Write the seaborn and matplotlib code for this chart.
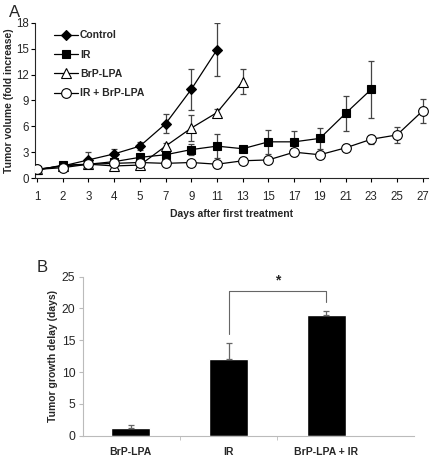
import matplotlib
matplotlib.use("Agg")
import matplotlib.pyplot as plt
import numpy as np
import pandas as pd
import seaborn as sns

# Panel A data: tumor volume (fold increase) per day
days = ["1", "2", "3", "4", "5", "7", "9", "11", "13", "15", "17", "19", "21", "23", "25", "27"]

control = [1.0, 1.4, 2.1, 2.8, 3.7, 6.3, 10.3, 14.9]
control_err = [0.2, 0.2, 0.9, 0.6, 0.5, 1.1, 2.4, 3.1]

ir = [0.9, 1.5, 1.6, 1.9, 2.4, 2.7, 3.3, 3.7, 3.4, 4.2, 4.2, 4.6, 7.5, 10.3]
ir_err = [0.2, 0.2, 0.3, 0.3, 0.3, 0.4, 0.6, 1.4, 0.3, 1.4, 1.3, 1.2, 2.0, 3.3]

brp = [1.0, 1.4, 1.6, 1.4, 1.5, 3.7, 5.8, 7.6, 11.2]
brp_err = [0.2, 0.2, 0.3, 0.3, 0.3, 0.4, 1.5, 0.4, 1.5]

combo = [1.0, 1.2, 1.6, 1.7, 1.8, 1.7, 1.8, 1.6, 2.0, 2.1, 3.0, 2.7, 3.5, 4.5, 5.0, 7.8]
combo_err = [0.2, 0.2, 0.3, 0.3, 0.3, 0.3, 0.3, 0.4, 0.4, 0.3, 0.4, 0.4, 0.4, 0.5, 0.9, 1.4]

# Panel B data: tumor growth delay (days)
groups = ["BrP-LPA", "IR", "BrP-LPA + IR"]
delay = [1.2, 12.0, 18.9]
delay_err = [0.5, 2.5, 0.7]

sns.set_style("ticks")
plt.rcParams["font.family"] = ["Liberation Sans", "DejaVu Sans"]

fig = plt.figure(figsize=(4.30, 4.57), dpi=100)
ax = fig.add_axes([0.0814, 0.6105, 0.9136, 0.3392])

series = [
    ("Control", control, control_err, dict(marker="D", markersize=5, markerfacecolor="black")),
    ("IR", ir, ir_err, dict(marker="s", markersize=6, markerfacecolor="black")),
    ("BrP-LPA", brp, brp_err, dict(marker="^", markersize=7, markerfacecolor="white")),
    ("IR + BrP-LPA", combo, combo_err, dict(marker="o", markersize=7, markerfacecolor="white")),
]

for name, vals, errs, style in series:
    x = np.arange(len(vals))
    ax.errorbar(x, vals, yerr=errs, fmt="none", ecolor="#444444",
                elinewidth=0.9, capsize=2.5, capthick=0.9, zorder=2)
    df = pd.DataFrame({"pos": x, "value": vals})
    sns.lineplot(data=df, x="pos", y="value", ax=ax, color="black",
                 linewidth=0.9, markeredgecolor="black", markeredgewidth=0.8,
                 label=name, zorder=3, **style)

ax.set_xlim(-0.08, 15.2)
ax.set_ylim(0, 18)
ax.set_yticks(range(0, 19, 3))
ax.set_xticks(range(len(days)))
ax.set_xticklabels(days)
ax.tick_params(axis="both", labelsize=8.3, length=3, width=0.8, color="black")
ax.tick_params(axis="x", pad=6)
ax.tick_params(axis="y", pad=1.5)
for s in ["left", "bottom"]:
    ax.spines[s].set_linewidth(0.8)
sns.despine(ax=ax)
ax.set_xlabel("Days after first treatment", fontsize=7.5, fontweight="bold", labelpad=5)
ax.set_ylabel("Tumor volume (fold increase)", fontsize=7.5, fontweight="bold", labelpad=1)
leg = ax.legend(loc="upper left", frameon=False, fontsize=7.5, handlelength=2.3,
                borderaxespad=0.3, labelspacing=0.9, handletextpad=0.2,
                bbox_to_anchor=(0.03, 1.0))
for t in leg.get_texts():
    t.set_fontweight("bold")
fig.text(0.022, 0.99, "A", fontsize=12, va="top")

# Panel B
bx = fig.add_axes([0.193, 0.0466, 0.77, 0.348])
dfb = pd.DataFrame({"group": groups, "delay": delay})
sns.barplot(data=dfb, x="group", y="delay", ax=bx, color="black",
            width=0.4, saturation=1, errorbar=None)
bx.errorbar(np.arange(len(groups)), delay, yerr=[[0] * len(groups), delay_err],
            fmt="none", ecolor="#666666", elinewidth=0.9, capsize=2.5, capthick=0.9)
bx.set_xlim(-0.49, 2.9)
bx.set_ylim(0, 25)
bx.set_yticks(range(0, 26, 5))
bx.set_xticks([0.5, 1.5], minor=True)
bx.tick_params(axis="x", which="major", length=0, labelsize=7.5, pad=8)
bx.tick_params(axis="x", which="minor", length=3, color="#bbbbbb")
bx.tick_params(axis="y", labelsize=8.8, length=3, color="#bbbbbb", pad=2.5)
for lbl in bx.get_xticklabels():
    lbl.set_fontweight("bold")
for s in ["left", "bottom"]:
    bx.spines[s].set_color("#bbbbbb")
    bx.spines[s].set_linewidth(0.8)
sns.despine(ax=bx)
bx.set_xlabel("")
bx.set_ylabel("Tumor growth delay (days)", fontsize=7.5, fontweight="bold", labelpad=3)

# significance bracket
bx.plot([1, 1, 2, 2], [16.0, 22.75, 22.75, 21.0], color="#666666", linewidth=0.8)
bx.text(1.5, 23.3, "*", ha="center", va="bottom", fontsize=10, fontweight="bold")
fig.text(0.085, 0.43, "B", fontsize=12, va="top")

fig.savefig("out.png", dpi=100)
